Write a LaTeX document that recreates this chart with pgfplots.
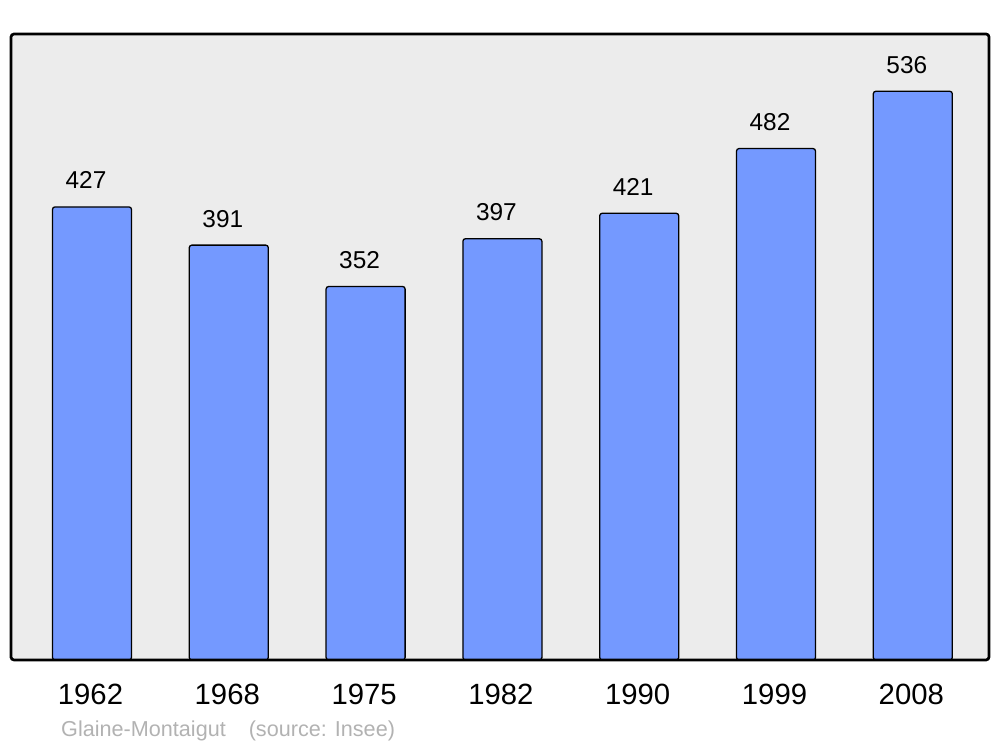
\documentclass[border=0pt]{standalone}
\usepackage{fontspec}
\setmainfont{Liberation Sans}
\usepackage{pgfplots}
\pgfplotsset{compat=1.18}
\definecolor{barfill}{RGB}{116,153,255}
\definecolor{bgfill}{RGB}{236,236,236}
\definecolor{srcgray}{RGB}{178,178,178}
\begin{document}
\begin{tikzpicture}[x=1bp,y=1bp]
\path (0,0) rectangle (1000,747);
\begin{axis}[
  at={(11bp,87bp)}, anchor=south west,
  scale only axis,
  width=978bp, height=626bp,
  xmin=-0.592, xmax=6.557,
  ymin=0, ymax=590,
  ybar, bar width=79bp,
  xtick={0,1,2,3,4,5,6},
  xticklabels={1962,1968,1975,1982,1990,1999,2008},
  ytick=\empty,
  major tick length=0pt,
  /pgf/number format/assume math mode=true,
  xticklabel style={anchor=base, yshift=-45bp, xshift=-1.5bp, inner sep=0pt, font=\fontsize{29.4}{31}\selectfont},
  axis background/.style={fill=bgfill},
  axis line style={line width=2.7bp, rounded corners=3bp},
  nodes near coords={\pgfmathprintnumber[assume math mode=true]{\pgfplotspointmeta}},
  nodes near coords style={anchor=base, yshift=18bp, xshift=-6bp, inner sep=0pt, font=\fontsize{24.5}{26}\selectfont, text=black},
  axis on top,
]
\addplot[fill=barfill, draw=black, line width=1.3bp, rounded corners=2.5bp] coordinates {
(0,427) (1,391) (2,352) (3,397) (4,421) (5,482) (6,536)
};
\end{axis}
\node[anchor=base west, inner sep=0pt, text=srcgray, font=\fontsize{21.7}{23}\selectfont] at (61,10) {Glaine-Montaigut\hspace{23bp}(source: Insee)};
\end{tikzpicture}
\end{document}
